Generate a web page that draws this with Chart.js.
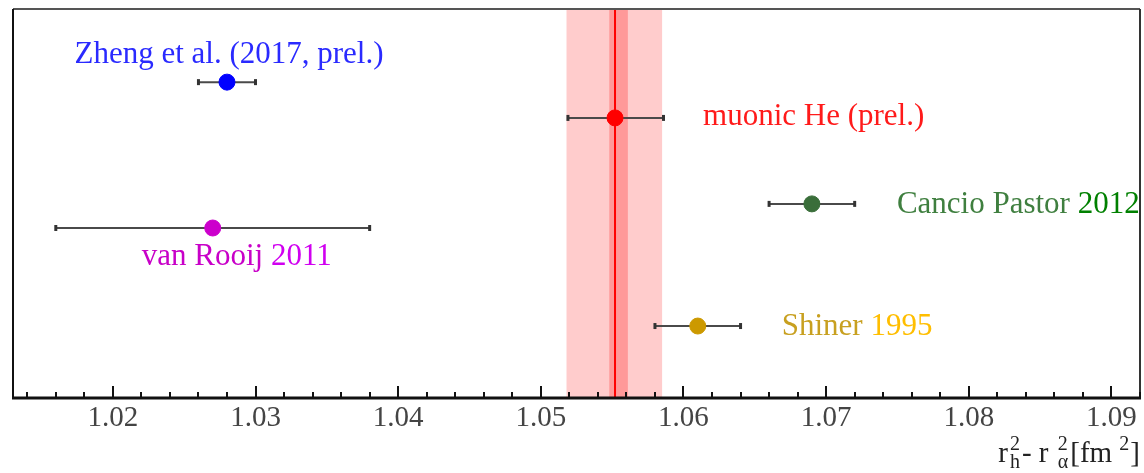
<!DOCTYPE html>
<html>
<head>
<meta charset="utf-8">
<script src="https://cdn.jsdelivr.net/npm/chart.js@4.4.1/dist/chart.umd.min.js"></script>
<style>
  html, body { margin: 0; padding: 0; background: #fff; }
  #wrap { width: 1144px; height: 473px; }
</style>
</head>
<body>
<div id="wrap"><canvas id="radius-chart"></canvas></div>
<script>
// Measurements of the squared charge radius difference (fm^2)
const names = ['Zheng et al. (2017, prel.)', 'muonic He (prel.)', 'Cancio Pastor 2012', 'van Rooij 2011', 'Shiner 1995'];
const values = [1.028, 1.0552, 1.069, 1.027, 1.061];
const errLow = [1.026, 1.0519, 1.066, 1.016, 1.058];
const errHigh = [1.030, 1.0586, 1.072, 1.038, 1.064];
// vertical slot of each entry (arbitrary units, 0..10)
const rows = [8.12, 7.2, 4.99, 4.37, 1.85];

// muonic He band: outer and inner uncertainty ranges
const bandOuter = [1.0518, 1.0585];
const bandInner = [1.0548, 1.0561];
const bandCentre = 1.0552;

const dotColors = ['#0000ff', '#ff0000', '#3a6e3a', '#cc00cc', '#cc9900'];

// label text split into coloured parts, plus placement relative to the dot
const labelParts = [
  [{ t: 'Zheng et al. (2017, prel.)', c: '#2a2aff' }],
  [{ t: 'muonic He (prel.)', c: '#ff1a1a' }],
  [{ t: 'Cancio Pastor ', c: '#3f7f3f' }, { t: '2012', c: '#008000' }],
  [{ t: 'van Rooij ', c: '#c800c8' }, { t: '2011', c: '#d000f0' }],
  [{ t: 'Shiner ', c: '#c8a020' }, { t: '1995', c: '#ffbe00' }]
];
const labelPlace = [
  { align: 'center', dx: 2, dy: -19 },
  { align: 'left', dx: 88, dy: 7 },
  { align: 'left', dx: 85, dy: 9 },
  { align: 'center', dx: 24, dy: 37 },
  { align: 'left', dx: 84, dy: 9 }
];

const serif = '"Liberation Serif", "DejaVu Serif", serif';

const datasets = [];
names.forEach((n, i) => {
  // horizontal error bar with small end caps
  datasets.push({
    type: 'line',
    data: [{ x: errLow[i], y: rows[i] }, { x: errHigh[i], y: rows[i] }],
    borderColor: '#4a4a4a',
    borderWidth: 2,
    pointStyle: 'line',
    rotation: 90,
    pointRadius: 3,
    pointBorderColor: '#333',
    pointBorderWidth: 3,
    order: 2
  });
  datasets.push({
    type: 'scatter',
    label: n,
    data: [{ x: values[i], y: rows[i] }],
    pointRadius: 8,
    pointBackgroundColor: dotColors[i],
    pointBorderColor: dotColors[i],
    pointBorderWidth: 1,
    order: 1
  });
});

const bandPlugin = {
  id: 'band',
  beforeDatasetsDraw(chart) {
    const { ctx, chartArea: a, scales: { x } } = chart;
    ctx.save();
    ctx.fillStyle = '#ffcccc';
    ctx.fillRect(x.getPixelForValue(bandOuter[0]), a.top, x.getPixelForValue(bandOuter[1]) - x.getPixelForValue(bandOuter[0]), a.bottom - a.top);
    ctx.fillStyle = '#ff9999';
    ctx.fillRect(x.getPixelForValue(bandInner[0]), a.top, x.getPixelForValue(bandInner[1]) - x.getPixelForValue(bandInner[0]), a.bottom - a.top);
    ctx.strokeStyle = '#ff0000';
    ctx.lineWidth = 2;
    const cx = x.getPixelForValue(bandCentre);
    ctx.beginPath();
    ctx.moveTo(cx, a.top);
    ctx.lineTo(cx, a.bottom);
    ctx.stroke();
    ctx.restore();
  }
};

const framePlugin = {
  id: 'frame',
  afterDraw(chart) {
    const { ctx, chartArea: a, scales: { x, y } } = chart;
    ctx.save();

    // labels next to each point
    ctx.font = '31px ' + serif;
    ctx.textBaseline = 'alphabetic';
    ctx.textAlign = 'left';
    labelParts.forEach((parts, i) => {
      const px = x.getPixelForValue(values[i]) + labelPlace[i].dx;
      const py = y.getPixelForValue(rows[i]) + labelPlace[i].dy;
      const total = parts.reduce((s, p) => s + ctx.measureText(p.t).width, 0);
      let cur = labelPlace[i].align === 'center' ? px - total / 2 : px;
      parts.forEach(p => {
        ctx.fillStyle = p.c;
        ctx.fillText(p.t, cur, py);
        cur += ctx.measureText(p.t).width;
      });
    });

    // frame
    ctx.lineWidth = 2;
    ctx.strokeStyle = '#555';
    ctx.beginPath();
    ctx.moveTo(a.left, a.top);
    ctx.lineTo(a.right, a.top);
    ctx.stroke();
    ctx.strokeStyle = '#333';
    ctx.beginPath();
    ctx.moveTo(a.right, a.top);
    ctx.lineTo(a.right, a.bottom);
    ctx.stroke();
    ctx.strokeStyle = '#111';
    ctx.beginPath();
    ctx.moveTo(a.left, a.top);
    ctx.lineTo(a.left, a.bottom);
    ctx.stroke();

    // inward tick marks, major every 0.01
    ctx.strokeStyle = '#111';
    ctx.lineWidth = 2;
    x.ticks.forEach(t => {
      const major = Math.abs(t.value * 100 - Math.round(t.value * 100)) < 1e-6;
      const px = Math.round(x.getPixelForValue(t.value));
      ctx.beginPath();
      ctx.moveTo(px, a.bottom);
      ctx.lineTo(px, a.bottom - (major ? 12 : 6));
      ctx.stroke();
    });
    ctx.lineWidth = 3;
    ctx.beginPath();
    ctx.moveTo(a.left - 1, a.bottom);
    ctx.lineTo(a.right + 1, a.bottom);
    ctx.stroke();

    // axis title r_h^2 - r_alpha^2 [fm^2]
    const big = '29px ' + serif, small = '20px ' + serif;
    const base = 462;
    const pieces = [
      { t: 'r', f: big, dy: 0 },
      { stack: ['2', 'h'] },
      { t: '- r ', f: big, dy: 0 },
      { stack: ['2', 'α'] },
      { t: '[fm ', f: big, dy: 0 },
      { t: '2', f: small, dy: -12 },
      { t: ']', f: big, dy: 0 }
    ];
    const widthOf = p => {
      if (p.stack) { ctx.font = small; return Math.max(...p.stack.map(s => ctx.measureText(s).width)) + 2; }
      ctx.font = p.f; return ctx.measureText(p.t).width;
    };
    const totalW = pieces.reduce((s, p) => s + widthOf(p), 0);
    let cx = 1138 - totalW - 3;
    ctx.fillStyle = '#222';
    pieces.forEach(p => {
      const w = widthOf(p);
      if (p.stack) {
        ctx.font = small;
        ctx.fillText(p.stack[0], cx + 1, base - 12);
        ctx.fillText(p.stack[1], cx + 1, base + 6);
      } else {
        ctx.font = p.f;
        ctx.fillText(p.t, cx, base + p.dy);
      }
      cx += p.t === '[fm ' ? w : w + 1;
    });
    ctx.restore();
  }
};

new Chart(document.getElementById('radius-chart'), {
  type: 'scatter',
  data: { datasets },
  options: {
    responsive: true,
    maintainAspectRatio: false,
    animation: false,
    layout: { autoPadding: false, padding: { left: 13, top: 9, right: 4, bottom: 0 } },
    plugins: { legend: { display: false }, tooltip: { enabled: false } },
    scales: {
      x: {
        type: 'linear',
        min: 1.013,
        max: 1.092,
        grid: { display: false, drawTicks: false },
        border: { display: false },
        afterFit: s => { s.height = 75; s.paddingLeft = 0; s.paddingRight = 0; },
        ticks: {
          stepSize: 0.002,
          includeBounds: false,
          autoSkip: false,
          maxRotation: 0,
          padding: 3,
          color: '#444',
          font: { family: serif, size: 29 },
          callback: v => Math.abs(v * 100 - Math.round(v * 100)) < 1e-6 ? v.toFixed(2) : ''
        }
      },
      y: { display: false, min: 0, max: 10 }
    }
  },
  plugins: [bandPlugin, framePlugin]
});
</script>
</body>
</html>
